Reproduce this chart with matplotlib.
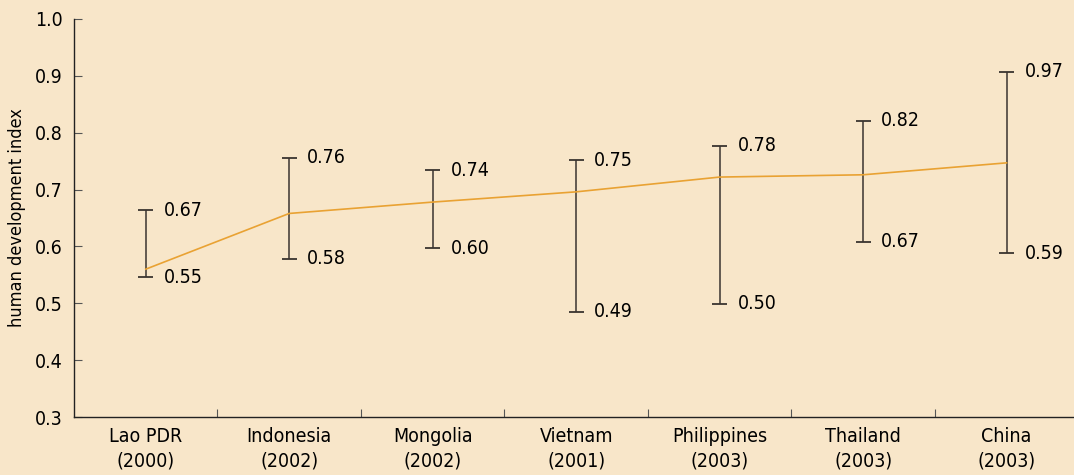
import numpy as np
import matplotlib.pyplot as plt
from matplotlib.ticker import FixedLocator

plt.rcParams["font.family"] = ["DejaVu Sans"]
plt.rcParams["font.stretch"] = "condensed"

BG = "#F8E6C9"
LINE_COLOR = "#E9A233"
BAR_COLOR = "#3A3430"

# ---------- Data ----------
countries = ["Lao PDR", "Indonesia", "Mongolia", "Vietnam", "Philippines", "Thailand", "China"]
years = ["2000", "2002", "2002", "2001", "2003", "2003", "2003"]
hdi = [0.560, 0.658, 0.678, 0.696, 0.722, 0.726, 0.747]
lower = [0.546, 0.578, 0.597, 0.485, 0.499, 0.608, 0.588]
upper = [0.664, 0.756, 0.734, 0.752, 0.777, 0.821, 0.907]
lower_labels = ["0.55", "0.58", "0.60", "0.49", "0.50", "0.67", "0.59"]
upper_labels = ["0.67", "0.76", "0.74", "0.75", "0.78", "0.82", "0.97"]

x = np.arange(len(countries))

# ---------- Plot ----------
fig = plt.figure(figsize=(10.74, 4.75), dpi=100, facecolor=BG)
ax = fig.add_axes([0.0689, 0.1221, 0.9311, 0.8379])
ax.set_facecolor(BG)

ax.vlines(x, lower, upper, color=BAR_COLOR, linewidth=1.1)
ax.plot(x, hdi, color=LINE_COLOR, linewidth=1.2, zorder=3)
cap_w = 0.052
ax.hlines(lower, x - cap_w, x + cap_w, color=BAR_COLOR, linewidth=1.3)
ax.hlines(upper, x - cap_w, x + cap_w, color=BAR_COLOR, linewidth=1.3)

for xi, lo, hi, lo_lab, hi_lab in zip(x, lower, upper, lower_labels, upper_labels):
    ax.text(xi + 0.125, hi, hi_lab, ha="left", va="center", fontsize=14, color="black")
    ax.text(xi + 0.125, lo, lo_lab, ha="left", va="center", fontsize=14, color="black")

# ---------- Axes ----------
ax.set_xlim(-0.5, 6.47)
ax.set_ylim(0.3, 1.0)
ax.set_yticks(np.arange(0.3, 1.01, 0.1))
ax.set_yticklabels([f"{v:.1f}" for v in np.arange(0.3, 1.01, 0.1)])
ax.set_xticks(x)
ax.set_xticklabels([f"{c}\n({y})" for c, y in zip(countries, years)])
ax.xaxis.set_minor_locator(FixedLocator(x[:-1] + 0.5))

ax.tick_params(axis="x", which="major", length=0, pad=7, labelsize=14)
ax.tick_params(axis="x", which="minor", direction="in", length=6, width=0.8, color="#555555")
ax.tick_params(axis="y", direction="in", length=6, width=0.8, color="#555555", pad=8, labelsize=14)
for lab in ax.get_xticklabels():
    lab.set_linespacing(1.4)

ax.spines["top"].set_visible(False)
ax.spines["right"].set_visible(False)
ax.spines["left"].set_linewidth(1.0)
ax.spines["bottom"].set_linewidth(1.0)
ax.spines["left"].set_color("#222222")
ax.spines["bottom"].set_color("#222222")

ax.set_ylabel("human development index", fontsize=13)
ax.yaxis.set_label_coords(-0.048, 0.5)

fig.savefig("out.png", dpi=100, facecolor=BG)
